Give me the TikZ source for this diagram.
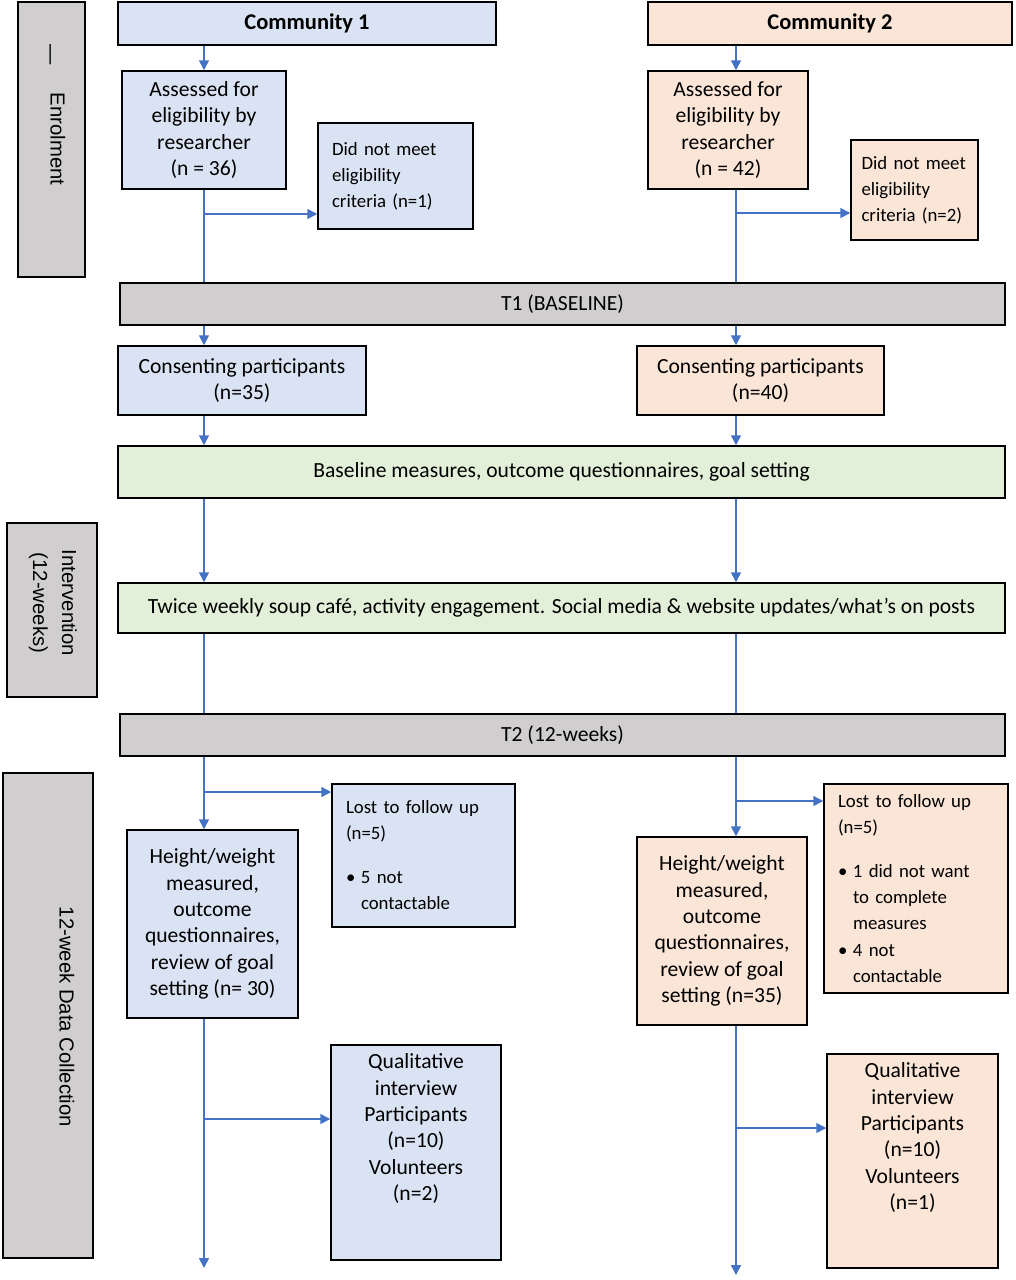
\documentclass[tikz,border=0pt]{standalone}
\usepackage{fontspec}
\setmainfont{Carlito}
\newfontfamily\sidefont{Liberation Sans}
\usetikzlibrary{shapes,arrows,arrows.meta}
\definecolor{boxblue}{HTML}{DAE3F3}
\definecolor{boxorange}{HTML}{FBE5D6}
\definecolor{boxgreen}{HTML}{E2F0D9}
\definecolor{boxgrey}{HTML}{D0CECE}
\definecolor{flowblue}{HTML}{4472C4}
\tikzset{
	stage/.style    = {draw, line width=1.5pt, rectangle, inner sep=0pt, align=center,
		font=\fontsize{21.6}{26.4}\selectfont},
	com1box/.style  = {stage, fill=boxblue},
	com2box/.style  = {stage, fill=boxorange},
	allbox/.style   = {stage, fill=boxgreen},
	timebar/.style  = {stage, fill=boxgrey},
	note/.style     = {align=left, inner xsep=14pt, font=\fontsize{18.8}{26}\selectfont},
	phase/.style    = {draw, line width=1.5pt, fill=boxgrey, rectangle, rotate=-90},
	phasetxt/.style = {rotate=-90, align=center, font=\sidefont\fontsize{20.3}{29}\selectfont},
	flow/.style     = {flowblue, line width=1.5pt}
}
\newcommand{\itm}[1]{\makebox[15pt][l]{\textbullet}#1}

\begin{document}
\begin{tikzpicture}[x=1pt, y=-1pt, >={Triangle[length=10pt,width=10pt]}]
	\useasboundingbox (0,0) rectangle (1015,1280);

	% Phase boxes on the left
	\draw
	node at (51.5,139.5) [phase, minimum width=275, minimum height=67] (enrol) {}
	node at (48,55) [phasetxt] (enroldash) {—}
	node at (58,139) [phasetxt] (enroltxt) {Enrolment}
	node at (52,610) [phase, minimum width=174, minimum height=90] (interv) {}
	node at (53,603) [phasetxt] (intervtxt) {Intervention\\(12-weeks)}
	node at (48,1015.5) [phase, minimum width=485, minimum height=90] (collect) {}
	node at (67,1017) [phasetxt] (collecttxt) {12-week Data Collection};

	% Column positions of the two flows
	\coordinate (c1) at (204,0);
	\coordinate (c2) at (736,0);

	% Drawing the blocks of community 1
	\draw
	node at (307,23.5) [com1box, minimum width=378, minimum height=43,
		font=\bfseries\fontsize{22.5}{24}\selectfont] (com1) {Community 1}
	node at (204,130) [com1box, minimum width=164, minimum height=118] (ass1)
		{Assessed for\\eligibility by\\researcher\\(n = 36)}
	node at (395.5,176) [com1box, note, text width=127, minimum height=106] (dnm1)
		{Did not meet\\eligibility\\criteria (n=1)}
	node at (242,380.5) [com1box, minimum width=248, minimum height=69] (cons1)
		{Consenting participants\\(n=35)}
	node at (423.5,855.5) [com1box, note, text width=155, minimum height=143] (lost1)
		{Lost to follow up\\(n=5)\\[18pt]\itm{5 not}\\\hspace*{15pt}contactable}
	node at (212.5,924) [com1box, minimum width=171, minimum height=188] (hw1)
		{Height/weight\\measured,\\outcome\\questionnaires,\\review of goal\\setting (n= 30)}
	node at (416,1152.5) [com1box, minimum width=170, minimum height=215] (qual1) {};
	\node at (qual1.north) [anchor=north, yshift=-6pt, align=center,
		font=\fontsize{21.6}{26.4}\selectfont] (qual1txt)
		{Qualitative\\interview\\Participants\\(n=10)\\Volunteers\\(n=2)};

	% Drawing the blocks of community 2
	\draw
	node at (830,23.5) [com2box, minimum width=364, minimum height=43,
		font=\bfseries\fontsize{22.5}{24}\selectfont] (com2) {Community 2}
	node at (728,130) [com2box, minimum width=160, minimum height=118] (ass2)
		{Assessed for\\eligibility by\\researcher\\(n = 42)}
	node at (914.5,190) [com2box, note, inner xsep=0pt, text width=106,
		minimum width=127, minimum height=100] (dnm2)
		{Did not meet\\eligibility\\criteria (n=2)}
	node at (760.5,380.5) [com2box, minimum width=247, minimum height=69] (cons2)
		{Consenting participants\\(n=40)}
	node at (916,888.5) [com2box, note, text width=156, minimum height=209] (lost2)
		{Lost to follow up\\(n=5)\\[18pt]\itm{1 did not want}\\\hspace*{15pt}to complete\\\hspace*{15pt}measures\\[1pt]\itm{4 not}\\\hspace*{15pt}contactable}
	node at (722,931) [com2box, minimum width=170, minimum height=188] (hw2)
		{Height/weight\\measured,\\outcome\\questionnaires,\\review of goal\\setting (n=35)}
	node at (912.5,1161) [com2box, minimum width=171, minimum height=214] (qual2) {};
	\node at (qual2.north) [anchor=north, yshift=-6pt, align=center,
		font=\fontsize{21.6}{26.4}\selectfont] (qual2txt)
		{Qualitative\\interview\\Participants\\(n=10)\\Volunteers\\(n=1)};

	% Shared blocks
	\draw
	node at (561.5,472) [allbox, minimum width=887, minimum height=52] (base)
		{Baseline measures, outcome questionnaires, goal setting}
	node at (561.5,608) [allbox, minimum width=887, minimum height=50] (twice)
		{Twice weekly soup café, activity engagement. Social media \& website updates/what’s on posts};

	% Junctions and loose ends
	\coordinate (j1) at (204,214);
	\coordinate (j2) at (736,213);
	\coordinate (j3) at (204,792);
	\coordinate (j4) at (736,801);
	\coordinate (j5) at (204,1119);
	\coordinate (j6) at (736,1128);
	\coordinate (end1) at (204,1268);
	\coordinate (end2) at (736,1275);

	% Connectors, community 1
	\draw[flow, ->] (com1.south -| c1) -- (ass1.north -| c1);
	\draw[flow, ->] (ass1.south -| c1) -- (cons1.north -| c1);
	\draw[flow, ->] (j1) -- (j1 -| dnm1.west);
	\draw[flow, ->] (cons1.south -| c1) -- (base.north -| c1);
	\draw[flow, ->] (base.south -| c1) -- (twice.north -| c1);
	\draw[flow, ->] (twice.south -| c1) -- (hw1.north -| c1);
	\draw[flow, ->] (j3) -- (j3 -| lost1.west);
	\draw[flow, ->] (hw1.south -| c1) -- (end1);
	\draw[flow, ->] (j5) -- (j5 -| qual1.west);

	% Connectors, community 2
	\draw[flow, ->] (com2.south -| c2) -- (ass2.north -| c2);
	\draw[flow, ->] (ass2.south -| c2) -- (cons2.north -| c2);
	\draw[flow, ->] (j2) -- (j2 -| dnm2.west);
	\draw[flow, ->] (cons2.south -| c2) -- (base.north -| c2);
	\draw[flow, ->] (base.south -| c2) -- (twice.north -| c2);
	\draw[flow, ->] (twice.south -| c2) -- (hw2.north -| c2);
	\draw[flow, ->] (j4) -- (j4 -| lost2.west);
	\draw[flow, ->] (hw2.south -| c2) -- (end2);
	\draw[flow, ->] (j6) -- (j6 -| qual2.west);

	% Time points, drawn over the connectors
	\draw
	node at (562.5,304) [timebar, minimum width=885, minimum height=42] (t1) {T1 (BASELINE)}
	node at (562.5,735) [timebar, minimum width=885, minimum height=42] (t2) {T2 (12-weeks)};

\end{tikzpicture}
\end{document}
